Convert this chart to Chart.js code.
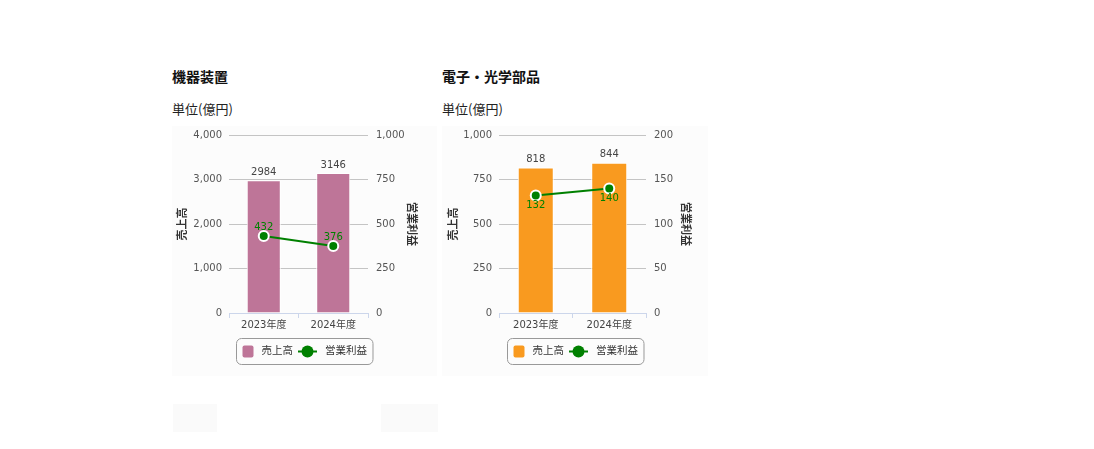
<!DOCTYPE html>
<html>
<head>
<meta charset="utf-8">
<script src="https://cdn.jsdelivr.net/npm/chart.js@4.4.1/dist/chart.umd.min.js"></script>
<style>
body { margin: 0; background: #fff; font-family: "DejaVu Sans", "Noto Sans CJK JP", sans-serif; }
.ttl { position: absolute; font-family: "Noto Sans CJK JP", sans-serif; font-size: 14px; font-weight: bold; color: #111; line-height: 20px; }
.unit { position: absolute; font-family: "Noto Sans CJK JP", sans-serif; font-size: 13px; color: #222; line-height: 18px; }
.panel { position: absolute; background: #fcfcfc; }
</style>
</head>
<body>
<div class="ttl" style="left:172px; top:66px;">機器装置</div>
<div class="unit" style="left:172px; top:100px;">単位(億円)</div>
<div class="panel" style="left:172px; top:126px; width:265px; height:250px;">
  <canvas id="equipChart" width="265" height="250"></canvas>
</div>

<div class="ttl" style="left:442px; top:66px;">電子・光学部品</div>
<div class="unit" style="left:442px; top:100px;">単位(億円)</div>
<div class="panel" style="left:442px; top:126px; width:266px; height:250px;">
  <canvas id="opticsChart" width="266" height="250"></canvas>
</div>

<div class="panel" style="left:173px; top:404px; width:44px; height:28px; background:#fafafa;"></div>
<div class="panel" style="left:381px; top:404px; width:57px; height:28px; background:#fafafa;"></div>

<script>
// data
const categories = ['2023年度', '2024年度'];
const seriesNames = ['売上高', '営業利益'];

const equipSales = [2984, 3146];
const equipProfit = [432, 376];
const equipSalesTicks = [0, 1000, 2000, 3000, 4000];
const equipProfitTicks = [0, 250, 500, 750, 1000];

const opticsSales = [818, 844];
const opticsProfit = [132, 140];
const opticsSalesTicks = [0, 250, 500, 750, 1000];
const opticsProfitTicks = [0, 50, 100, 150, 200];

const FONT = '"DejaVu Sans", "Noto Sans CJK JP", sans-serif';
const GREEN = '#008000';

// labels above bars and next to the line points
const valueLabels = {
    id: 'valueLabels',
    afterDatasetsDraw(chart, args, opts) {
        const ctx = chart.ctx;
        ctx.save();
        ctx.font = '10px ' + FONT;
        ctx.textAlign = 'center';
        ctx.textBaseline = 'middle';
        chart.data.datasets.forEach((ds, i) => {
            const meta = chart.getDatasetMeta(i);
            meta.data.forEach((el, j) => {
                if (ds.type === 'line') {
                    ctx.fillStyle = GREEN;
                    ctx.fillText(ds.data[j], el.x, el.y + opts.lineOffset);
                } else {
                    ctx.fillStyle = '#444';
                    ctx.fillText(ds.data[j], el.x, el.y - 8);
                }
            });
        });
        ctx.restore();
    }
};

// legend in a rounded box, like the original
const boxLegend = {
    id: 'boxLegend',
    afterDraw(chart) {
        const ctx = chart.ctx;
        const bar = chart.data.datasets[0];
        const line = chart.data.datasets[1];
        ctx.save();
        ctx.font = '10.5px ' + FONT;
        const w1 = ctx.measureText(bar.label).width;
        const w2 = ctx.measureText(line.label).width;
        const total = 6 + 11 + 8 + w1 + 5 + 19 + 8 + w2 + 6;
        const x0 = Math.round(chart.width / 2 - total / 2) + 0.5;
        const y0 = 212.5, h = 26, cy = y0 + h / 2;

        ctx.strokeStyle = '#999';
        ctx.lineWidth = 1;
        ctx.beginPath();
        ctx.roundRect(x0, y0, total, h, 5);
        ctx.stroke();

        let x = x0 + 6;
        ctx.fillStyle = bar.backgroundColor;
        ctx.beginPath();
        ctx.roundRect(x, cy - 6, 11, 12, 2);
        ctx.fill();
        x += 11 + 8;
        ctx.fillStyle = '#333';
        ctx.textBaseline = 'middle';
        ctx.fillText(bar.label, x, cy);
        x += w1 + 5;

        ctx.strokeStyle = GREEN;
        ctx.lineWidth = 2;
        ctx.beginPath();
        ctx.moveTo(x, cy);
        ctx.lineTo(x + 19, cy);
        ctx.stroke();
        ctx.fillStyle = GREEN;
        ctx.beginPath();
        ctx.arc(x + 9.5, cy, 6, 0, Math.PI * 2);
        ctx.fill();
        x += 19 + 8;
        ctx.fillStyle = '#333';
        ctx.fillText(line.label, x, cy);
        ctx.restore();
    }
};

function makeChart(id, sales, profit, salesTicks, profitTicks, barColor, cfg) {
    const el = document.getElementById(id);
    return new Chart(el.getContext('2d'), {
        data: {
            labels: categories,
            datasets: [{
                type: 'bar',
                label: seriesNames[0],
                data: sales,
                backgroundColor: barColor,
                borderColor: '#ffffff',
                borderWidth: 1,
                barPercentage: 0.49,
                categoryPercentage: 1,
                yAxisID: 'y',
                order: 1
            }, {
                type: 'line',
                label: seriesNames[1],
                data: profit,
                borderColor: GREEN,
                borderWidth: 2,
                pointRadius: 5,
                pointBorderWidth: 2,
                pointBorderColor: '#ffffff',
                pointBackgroundColor: GREEN,
                yAxisID: 'y1',
                order: 0
            }]
        },
        options: {
            responsive: false,
            animation: false,
            layout: { padding: { top: 9, bottom: 40, left: 0, right: 0 } },
            plugins: {
                legend: { display: false },
                tooltip: { enabled: false },
                valueLabels: { lineOffset: cfg.lineOffset }
            },
            scales: {
                x: {
                    grid: { display: true, drawOnChartArea: false, drawTicks: true, tickLength: 5, color: '#ccd6eb' },
                    border: { color: '#ccd6eb' },
                    ticks: { padding: 1, color: '#444', font: { size: 10, family: FONT } },
                    afterFit: s => { s.height = 23; }
                },
                y: {
                    position: 'left',
                    min: salesTicks[0],
                    max: salesTicks[salesTicks.length - 1],
                    ticks: { stepSize: salesTicks[1] - salesTicks[0], padding: 7, color: '#555', font: { size: 10, family: FONT } },
                    grid: { color: '#c4c4c4', drawTicks: false },
                    border: { display: false },
                    title: { display: true, text: seriesNames[0], color: '#333', padding: { top: cfg.leftTitlePad, bottom: 0 }, font: { size: 11, weight: 'bold', family: FONT } },
                    afterFit: s => { s.width = 57; s.paddingTop = 0; s.paddingBottom = 0; }
                },
                y1: {
                    position: 'right',
                    min: profitTicks[0],
                    max: profitTicks[profitTicks.length - 1],
                    ticks: { stepSize: profitTicks[1] - profitTicks[0], padding: 8, color: '#555', font: { size: 10, family: FONT } },
                    grid: { display: false, drawTicks: false },
                    border: { display: false },
                    title: { display: true, text: seriesNames[1], color: '#333', padding: { top: cfg.rightTitlePad, bottom: 0 }, font: { size: 11, weight: 'bold', family: FONT } },
                    afterFit: s => { s.width = cfg.rightWidth; s.paddingTop = 0; s.paddingBottom = 0; }
                }
            }
        },
        plugins: [valueLabels, boxLegend]
    });
}

makeChart('equipChart', equipSales, equipProfit, equipSalesTicks, equipProfitTicks, '#be7598',
    { rightWidth: 69, rightTitlePad: 20, leftTitlePad: 4.5, lineOffset: -8.5 });
makeChart('opticsChart', opticsSales, opticsProfit, opticsSalesTicks, opticsProfitTicks, '#f99a1f',
    { rightWidth: 62, rightTitlePad: 17, leftTitlePad: 5.5, lineOffset: 10 });
</script>
</body>
</html>
